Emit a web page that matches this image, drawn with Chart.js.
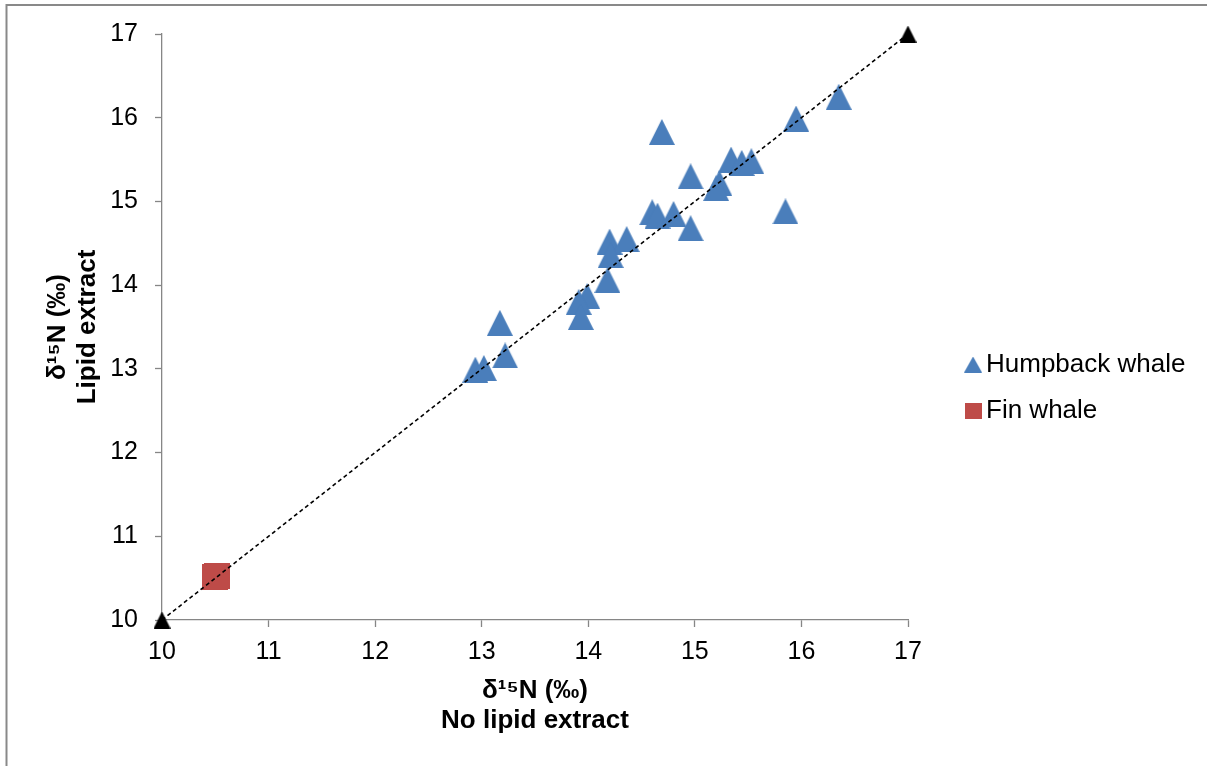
<!DOCTYPE html>
<html>
<head>
<meta charset="utf-8">
<script src="https://cdn.jsdelivr.net/npm/chart.js@4.4.1/dist/chart.umd.min.js"></script>
<style>
  html, body { margin: 0; padding: 0; background: #ffffff; }
  #wrap { position: relative; width: 1207px; height: 766px; }
</style>
</head>
<body>
<div id="wrap"><canvas id="c"></canvas></div>
<script>
// ---- data ----
const humpbackX = [16.35, 15.95, 14.69, 14.96, 15.34, 15.44, 15.53, 15.23, 15.20, 15.85, 14.60, 14.65, 14.80, 14.96, 14.20, 14.36, 14.21, 14.18, 13.99, 13.91, 13.93, 13.17, 13.22, 12.94, 13.02];
const humpbackY = [16.25, 15.99, 15.83, 15.30, 15.50, 15.46, 15.48, 15.22, 15.16, 14.88, 14.87, 14.83, 14.85, 14.68, 14.52, 14.55, 14.36, 14.06, 13.87, 13.80, 13.62, 13.55, 13.16, 12.99, 13.01];
const finX = [10.50, 10.52];
const finY = [10.51, 10.53];
const lineX = [10, 17];
const lineY = [10, 17];
const axisMin = 10;
const axisMax = 17;
const seriesNames = ['Humpback whale', 'Fin whale'];
const xTitle = ['δ¹⁵N (‰)', 'No lipid extract'];
const yTitle = ['δ¹⁵N (‰)', 'Lipid extract'];

const BLUE = '#4A7EBB';
const RED = '#BE4B48';
const FONT = "'Liberation Sans', Arial, Helvetica, sans-serif";

function triangleCanvas(w, h, color) {
  const c = document.createElement('canvas');
  c.width = w; c.height = h;
  const g = c.getContext('2d');
  g.fillStyle = color;
  g.beginPath();
  g.moveTo(w / 2, 0);
  g.lineTo(w, h);
  g.lineTo(0, h);
  g.closePath();
  g.fill();
  return c;
}
function squareCanvas(w, h, color) {
  const c = document.createElement('canvas');
  c.width = w; c.height = h;
  const g = c.getContext('2d');
  g.fillStyle = color;
  g.fillRect(0, 0, w, h);
  return c;
}

const triBlue = triangleCanvas(26, 26, BLUE);
const triBlack = triangleCanvas(17, 17, '#000000');
const sqRed = squareCanvas(26, 26, RED);
const legTri = triangleCanvas(18, 16, BLUE);
const legSq = squareCanvas(17, 16, RED);

const toPts = (xs, ys) => xs.map((x, i) => ({ x: x, y: ys[i] }));

const frame = {
  id: 'frame',
  beforeDraw(chart) {
    const ctx = chart.ctx;
    ctx.save();
    ctx.fillStyle = '#ffffff';
    ctx.fillRect(0, 0, chart.width, chart.height);
    ctx.strokeStyle = '#898989';
    ctx.lineWidth = 2;
    ctx.beginPath();
    ctx.moveTo(6.5, chart.height);
    ctx.lineTo(6.5, 5);
    ctx.lineTo(chart.width, 5);
    ctx.stroke();
    ctx.restore();
  }
};

const legendPlace = {
  id: 'legendPlace',
  afterLayout(chart) {
    const lg = chart.legend;
    if (!lg) return;
    lg.left = 953;
    lg.right = chart.width;
    lg.top = 331.5;
    lg.bottom = chart.height;
  }
};

new Chart(document.getElementById('c'), {
  type: 'scatter',
  data: {
    datasets: [
      {
        label: '1:1',
        data: toPts(lineX, lineY),
        showLine: true,
        borderColor: '#000000',
        borderWidth: 1.6,
        borderDash: [4, 3],
        pointStyle: triBlack,
        pointRadius: 5,
        clip: false
      },
      {
        label: seriesNames[0],
        data: toPts(humpbackX, humpbackY),
        pointStyle: triBlue,
        pointRadius: 5,
        backgroundColor: BLUE,
        borderColor: BLUE,
        clip: false
      },
      {
        label: seriesNames[1],
        data: toPts(finX, finY),
        pointStyle: sqRed,
        pointRadius: 5,
        backgroundColor: RED,
        borderColor: RED,
        clip: false
      }
    ]
  },
  options: {
    responsive: true,
    maintainAspectRatio: false,
    animation: false,
    events: [],
    layout: { padding: { left: 0, top: 34, right: 99, bottom: 0 } },
    plugins: {
      tooltip: { enabled: false },
      legend: {
        position: 'right',
        align: 'start',
        maxWidth: 200,
        labels: {
          usePointStyle: true,
          pointStyleWidth: 0.01,
          padding: 20,
          color: '#000000',
          font: { family: FONT, size: 26 },
          generateLabels() {
            return [
              { text: seriesNames[0], pointStyle: legTri, fillStyle: BLUE, strokeStyle: BLUE, lineWidth: 0, hidden: false, datasetIndex: 1, fontColor: '#000000' },
              { text: seriesNames[1], pointStyle: legSq, fillStyle: RED, strokeStyle: RED, lineWidth: 0, hidden: false, datasetIndex: 2, fontColor: '#000000' }
            ];
          }
        }
      }
    },
    scales: {
      x: {
        type: 'linear',
        min: axisMin,
        max: axisMax,
        ticks: { stepSize: 1, padding: 10, color: '#000000', font: { family: FONT, size: 25 } },
        grid: { drawOnChartArea: false, drawTicks: true, tickLength: 7, color: '#868686', tickColor: '#868686', tickWidth: 1.3 },
        border: { display: true, color: '#868686', width: 1.3 },
        title: {
          display: true,
          text: xTitle,
          color: '#000000',
          font: { family: FONT, size: 26, weight: 'bold', lineHeight: '30px' },
          padding: { top: 0, bottom: 30 }
        },
        afterFit(scale) { scale.height = 146; }
      },
      y: {
        type: 'linear',
        min: axisMin,
        max: axisMax,
        ticks: { stepSize: 1, padding: 17, color: '#000000', font: { family: FONT, size: 25 } },
        grid: { drawOnChartArea: false, drawTicks: true, tickLength: 7, color: '#868686', tickColor: '#868686', tickWidth: 1.3 },
        border: { display: true, color: '#868686', width: 1.3 },
        title: {
          display: true,
          text: yTitle,
          color: '#000000',
          font: { family: FONT, size: 26, weight: 'bold', lineHeight: '30px' },
          padding: { top: 43, bottom: 0 }
        },
        afterFit(scale) { scale.width = 162; }
      }
    }
  },
  plugins: [frame, legendPlace]
});
</script>
</body>
</html>
